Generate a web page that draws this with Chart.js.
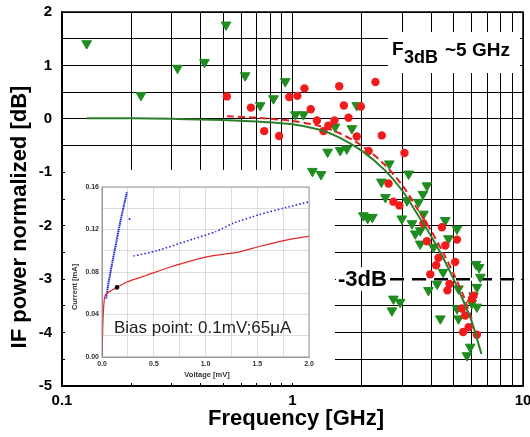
<!doctype html>
<html>
<head>
<title>IF bandwidth</title>
<script src="https://cdn.jsdelivr.net/npm/chart.js@4.4.1/dist/chart.umd.min.js"></script>
<style>
body { margin: 0; background: #fff; }
#wrap { position: relative; width: 530px; height: 437px; }
#main { position: absolute; left: 0; top: 0; }
#inset { position: absolute; left: 65px; top: 170px; }
</style>
</head>
<body>
<div id="wrap">
	<canvas id="main" width="530" height="437"></canvas>
	<canvas id="inset" width="270" height="213"></canvas>
</div>
<script>
const FONT = '"Liberation Sans", Arial, sans-serif';

// main plot: frequency [GHz] vs IF power [dB]
const freqTicks = [0.1, 0.2, 0.3, 0.4, 0.5, 0.6, 0.7, 0.8, 0.9, 1, 2, 3, 4, 5, 6, 7, 8, 9, 10];
const freqLabels = {0.1: '0.1', 1: '1', 10: '10'};

const greenTriangles = [
	[0.128, 1.41], [0.22, 0.44], [0.317, 0.95], [0.415, 1.06], [0.515, 1.76], [0.623, 0.81],
	[0.724, 0.25], [0.827, 0.38], [0.93, 0.70], [1.03, 0.08], [1.116, 0.08], [1.22, -0.98],
	[1.33, -1.04], [1.42, -0.62], [1.53, -0.15], [1.61, -0.59], [1.72, -0.56], [1.81, -0.18],
	[1.90, 0.25], [2.43, -1.18], [2.63, -0.84], [3.19, -1.03], [3.68, -1.41], [2.53, -1.47],
	[3.14, -1.53], [3.70, -1.78], [3.52, -1.56], [2.03, -1.81], [2.12, -1.86], [2.22, -1.84],
	[2.98, -1.87], [3.30, -1.96], [3.58, -2.09], [4.60, -1.90], [4.75, -2.24], [5.17, -2.06],
	[3.58, -2.34], [4.09, -2.40], [6.25, -2.72], [6.45, -2.78], [6.53, -2.96], [6.31, -3.15],
	[4.50, -2.87], [3.89, -3.21], [5.25, -3.18], [4.24, -3.09], [2.74, -3.37], [2.93, -3.43],
	[2.70, -3.59], [4.38, -3.74], [5.17, -3.55], [5.25, -3.74], [6.10, -3.31], [6.31, -3.52],
	[5.71, -4.43], [5.90, -4.27], [3.83, -1.25], [3.41, -2.15], [6.0, -3.45]
];

const redCircles = [
	[0.519, 0.42], [0.66, 0.21], [0.754, -0.23], [0.875, -0.32], [0.968, 0.41], [1.05, 0.43],
	[1.127, 0.57], [1.20, 0.18], [1.276, -0.03], [1.363, -0.23], [1.43, -0.13], [1.52, -0.03],
	[1.595, 0.61], [1.67, 0.25], [1.75, 0.02], [1.90, -0.33], [1.98, 0.23], [2.14, -0.60],
	[2.29, 0.69], [2.44, -0.31], [2.61, -1.21], [3.06, -0.64], [2.74, -1.55], [2.91, -1.62],
	[3.70, -1.96], [4.45, -2.03], [5.17, -2.26], [3.83, -2.29], [4.60, -2.37], [4.30, -2.60],
	[5.08, -2.68], [4.20, -2.74], [3.96, -2.91], [4.80, -3.09], [4.70, -3.21], [5.43, -3.55],
	[5.61, -3.68], [6.0, -3.37], [6.1, -3.31], [5.81, -3.90], [5.5, -3.99], [6.31, -4.04]
];

const greenFit = [
	[0.128, 0.01], [0.2, 0.01], [0.3, 0.0], [0.5, -0.02], [0.7, -0.05], [1.0, -0.1],
	[1.3, -0.2], [1.6, -0.35], [2.0, -0.6], [2.5, -0.95], [3.0, -1.35], [3.5, -1.8],
	[4.0, -2.2], [4.5, -2.6], [5.0, -3.0], [5.5, -3.4], [6.0, -3.8], [6.6, -4.4]
];

const redFit = [
	[0.52, 0.05], [0.7, 0.02], [1.0, -0.04], [1.3, -0.13], [1.6, -0.27], [2.0, -0.5],
	[2.5, -0.85], [3.0, -1.25], [3.5, -1.7], [4.0, -2.1], [4.5, -2.5], [5.0, -2.9],
	[5.5, -3.3], [6.0, -3.75]
];

const threeDbLevel = -3;
const threeDbFreq = [2.65, 10];

// inset: I-V curve
const blueSteep = [[0.04, 0.055], [0.06, 0.068], [0.09, 0.084], [0.128, 0.103], [0.17, 0.124], [0.21, 0.142], [0.24, 0.155]];
const blueLone = [[0.266, 0.13]];
const blueUpper = [[0.305, 0.095], [0.53, 0.1], [0.88, 0.111], [1.1, 0.118], [1.27, 0.126], [1.52, 0.134], [1.75, 0.14], [2.0, 0.146]];
const redIV = [
	[0, 0], [0.008, 0.03], [0.018, 0.05], [0.03, 0.058], [0.05, 0.06], [0.08, 0.062],
	[0.145, 0.0655], [0.24, 0.0706], [0.43, 0.0769], [0.66, 0.0847], [1.0, 0.094],
	[1.33, 0.099], [1.52, 0.104], [1.78, 0.11], [2.0, 0.1136]
];
const biasPoint = [[0.145, 0.0655]];

const toXY = pts => pts.map(p => ({x: p[0], y: p[1]}));

const mainDecor = {
	id: 'mainDecor',
	beforeDatasetsDraw(chart) {
		const c = chart.ctx;
		const y3 = chart.scales.y.getPixelForValue(threeDbLevel);
		c.save();
		c.fillStyle = '#fff';
		c.fillRect(65, 170, 270, 213);   // under the inset
		c.fillRect(388, 32, 132, 41);    // F3dB label box
		c.fillRect(336, y3 - 12, 54, 24);
		c.fillRect(390, y3 - 1.5, 131, 3);
		c.fillStyle = '#000';
		c.textBaseline = 'alphabetic';
		c.font = 'bold 19px ' + FONT;
		c.fillText('F', 392, 55);
		c.font = 'bold 18px ' + FONT;
		c.fillText('3dB', 404, 62.5);
		c.font = 'bold 19px ' + FONT;
		c.fillText('~5 GHz', 445, 55.5);
		c.font = 'bold 22px ' + FONT;
		c.textBaseline = 'middle';
		c.fillText('-3dB', 338, y3 + 1);
		c.restore();
	},
	afterDraw(chart) {
		const c = chart.ctx;
		const a = chart.chartArea;
		c.save();
		c.strokeStyle = '#000';
		c.lineWidth = 1.5;
		c.strokeRect(a.left, a.top, a.right - a.left, a.bottom - a.top);
		c.fillStyle = '#000';
		c.font = 'bold 22px ' + FONT;
		c.textAlign = 'center';
		c.textBaseline = 'middle';
		c.fillText('Frequency [GHz]', 296, 419);
		c.translate(20, 217);
		c.rotate(-Math.PI / 2);
		c.fillText('IF power normalized [dB]', 0, 0);
		c.restore();
	}
};

new Chart(document.getElementById('main'), {
	type: 'scatter',
	data: {
		datasets: [{
			label: 'fit green',
			data: toXY(greenFit),
			showLine: true,
			borderColor: '#2b7f2b',
			borderWidth: 2,
			pointRadius: 0,
			tension: 0.3,
			order: 0
		}, {
			label: 'fit red',
			data: toXY(redFit),
			showLine: true,
			borderColor: '#e52020',
			borderDash: [7, 4],
			borderWidth: 2,
			pointRadius: 0,
			tension: 0.3,
			order: 1
		}, {
			label: 'red',
			data: toXY(redCircles),
			pointRadius: 4.2,
			backgroundColor: '#f21a1a',
			borderColor: '#f21a1a',
			borderWidth: 0,
			order: 2
		}, {
			label: 'green',
			data: toXY(greenTriangles),
			pointStyle: 'triangle',
			rotation: 180,
			pointRadius: 5.6,
			backgroundColor: '#1f8c1f',
			borderColor: '#1f8c1f',
			borderWidth: 1,
			order: 3
		}, {
			label: '-3dB',
			data: threeDbFreq.map(f => ({x: f, y: threeDbLevel})),
			showLine: true,
			borderColor: '#000',
			borderDash: [14, 8],
			borderWidth: 2.5,
			pointRadius: 0,
			order: 4
		}]
	},
	options: {
		responsive: false,
		animation: false,
		layout: {padding: {left: 0, top: 12, right: 7, bottom: 0}},
		plugins: {legend: {display: false}, tooltip: {enabled: false}},
		scales: {
			x: {
				type: 'logarithmic',
				min: 0.1,
				max: 10,
				afterBuildTicks(s) { s.ticks = freqTicks.map(v => ({value: v})); },
				afterFit(s) { s.height = 51; s.paddingLeft = 0; s.paddingRight = 0; },
				grid: {color: '#000', lineWidth: 1, drawTicks: false},
				border: {color: '#000', width: 1.5},
				ticks: {
					autoSkip: false, maxRotation: 0, padding: 6, color: '#000',
					font: {family: FONT, size: 15, weight: 'bold'},
					callback: v => freqLabels[v] || ''
				}
			},
			y: {
				min: -5,
				max: 2,
				afterFit(s) { s.width = 62; s.paddingTop = 0; s.paddingBottom = 0; },
				grid: {color: '#000', lineWidth: 1, drawTicks: false},
				border: {color: '#000', width: 1.5},
				ticks: {
					stepSize: 0.5, padding: 10, color: '#000',
					font: {family: FONT, size: 15, weight: 'bold'},
					callback: v => Number.isInteger(v) ? String(v) : ''
				}
			}
		}
	},
	plugins: [mainDecor]
});

const insetDecor = {
	id: 'insetDecor',
	afterDraw(chart) {
		const c = chart.ctx;
		const a = chart.chartArea;
		c.save();
		c.strokeStyle = '#999';
		c.lineWidth = 1;
		c.strokeRect(a.left, a.top, a.right - a.left, a.bottom - a.top);
		c.fillStyle = '#333';
		c.font = 'bold 7.5px ' + FONT;
		c.textAlign = 'center';
		c.textBaseline = 'middle';
		c.fillText('Voltage [mV]', 142, 205);
		c.save();
		c.translate(10, 117);
		c.rotate(-Math.PI / 2);
		c.fillText('Current [mA]', 0, 0);
		c.restore();
		c.fillStyle = '#222';
		c.font = '17px ' + FONT;
		c.textAlign = 'left';
		c.fillText('Bias point: 0.1mV;65\u03bcA', 49, 158);
		c.restore();
	}
};

new Chart(document.getElementById('inset'), {
	type: 'scatter',
	data: {
		datasets: [{
			data: toXY(biasPoint),
			pointRadius: 2.3,
			backgroundColor: '#000',
			borderWidth: 0,
			order: 0
		}, {
			data: toXY(redIV),
			showLine: true,
			borderColor: '#e02828',
			borderWidth: 1.2,
			pointRadius: 0,
			tension: 0.2,
			order: 1
		}, {
			data: toXY(blueSteep),
			showLine: true,
			borderColor: '#2424e0',
			borderWidth: 2,
			borderDash: [1.5, 0.6],
			pointRadius: 0,
			tension: 0.2,
			order: 2
		}, {
			data: toXY(blueLone),
			pointRadius: 1,
			backgroundColor: '#2424e0',
			borderWidth: 0,
			order: 2
		}, {
			data: toXY(blueUpper),
			showLine: true,
			borderColor: '#2424e0',
			borderWidth: 1.6,
			borderDash: [1.5, 2.2],
			pointRadius: 0,
			tension: 0.2,
			order: 2
		}]
	},
	options: {
		responsive: false,
		animation: false,
		layout: {padding: {left: 0, top: 17, right: 26, bottom: 0}},
		plugins: {legend: {display: false}, tooltip: {enabled: false}},
		scales: {
			x: {
				type: 'linear', min: 0, max: 2,
				afterFit(s) { s.height = 26; s.paddingLeft = 0; s.paddingRight = 0; },
				grid: {color: '#d4d4d4', lineWidth: 0.8, drawTicks: false},
				border: {color: '#999', width: 1},
				ticks: {
					stepSize: 0.25, padding: 3, color: '#333', autoSkip: false, maxRotation: 0,
					font: {family: FONT, size: 7, weight: 'bold'},
					callback: v => (Math.round(v * 100) % 50 === 0) ? v.toFixed(1) : ''
				}
			},
			y: {
				min: 0, max: 0.16,
				afterFit(s) { s.width = 37; s.paddingTop = 0; s.paddingBottom = 0; },
				grid: {color: '#d4d4d4', lineWidth: 0.8, drawTicks: false},
				border: {color: '#999', width: 1},
				ticks: {
					stepSize: 0.02, padding: 3, color: '#333', autoSkip: false,
					font: {family: FONT, size: 7, weight: 'bold'},
					callback: v => (Math.round(v * 100) % 4 === 0) ? v.toFixed(2) : ''
				}
			}
		}
	},
	plugins: [insetDecor]
});
</script>
</body>
</html>
